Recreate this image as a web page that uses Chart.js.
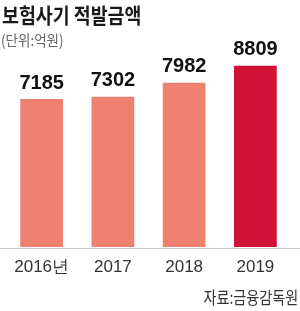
<!DOCTYPE html>
<html>
<head>
<meta charset="utf-8">
<script src="https://cdn.jsdelivr.net/npm/chart.js@4"></script>
<style>
    html, body { margin: 0; padding: 0; background: #fff; }
    #wrap { position: relative; width: 300px; height: 311px; overflow: hidden; }
    #chart { position: absolute; left: 0; top: 0; }
    .txt { position: absolute; white-space: nowrap; font-family: "Noto Sans CJK KR", sans-serif; line-height: 1; }
    #title { left: 2px; top: 4px; font-size: 21px; font-weight: 700; color: #1a1a1a; transform: scaleX(0.875); transform-origin: left top; }
    #unit { left: 1px; top: 32px; font-size: 15px; color: #666; transform: scaleX(0.9); transform-origin: left top; }
    #source { right: 2px; top: 288px; font-size: 17px; color: #333; transform: scaleX(0.83); transform-origin: right top; }
</style>
</head>
<body>
<div id="wrap">
    <canvas id="chart" width="300" height="311"></canvas>
    <div class="txt" id="title">보험사기 적발금액</div>
    <div class="txt" id="unit">(단위:억원)</div>
    <div class="txt" id="source">자료:금융감독원</div>
</div>
<script>
// Data
const years = ['2016년', '2017', '2018', '2019'];
const amounts = [7185, 7302, 7982, 8809];
const barColors = ['#ee806f', '#ee806f', '#ee806f', '#d01236'];

// Value labels above bars + baseline across full width
const barLabels = {
    id: 'barLabels',
    afterDatasetsDraw(chart) {
        const ctx = chart.ctx;
        const meta = chart.getDatasetMeta(0);
        ctx.save();
        ctx.font = 'bold 20px "Liberation Sans Narrow", sans-serif';
        ctx.fillStyle = '#111';
        ctx.textAlign = 'center';
        ctx.textBaseline = 'bottom';
        meta.data.forEach((bar, i) => {
            ctx.fillText(amounts[i], bar.x, bar.y - 6);
        });
        // axis line
        const y = chart.scales.x.top + 1.5;
        ctx.strokeStyle = '#c8c8c8';
        ctx.lineWidth = 1;
        ctx.beginPath();
        ctx.moveTo(0, y);
        ctx.lineTo(chart.width, y);
        ctx.stroke();
        ctx.restore();
    }
};

const ctx = document.getElementById('chart').getContext('2d');
const chart = new Chart(ctx, {
    type: 'bar',
    data: {
        labels: years,
        datasets: [{
            data: amounts,
            backgroundColor: barColors,
            borderWidth: 0,
            barPercentage: 0.6,
            categoryPercentage: 1
        }]
    },
    options: {
        responsive: false,
        animation: false,
        layout: {
            padding: { left: 6, right: 9, top: 0, bottom: 23.6 }
        },
        scales: {
            x: {
                grid: { display: false, drawTicks: false },
                border: { display: false },
                ticks: {
                    padding: 10,
                    color: '#333',
                    font: { family: '"Liberation Sans Narrow", sans-serif', size: 17 }
                }
            },
            y: {
                display: false,
                min: 0,
                max: 12000
            }
        },
        plugins: {
            legend: { display: false },
            tooltip: { enabled: false }
        }
    },
    plugins: [barLabels]
});
</script>
</body>
</html>
